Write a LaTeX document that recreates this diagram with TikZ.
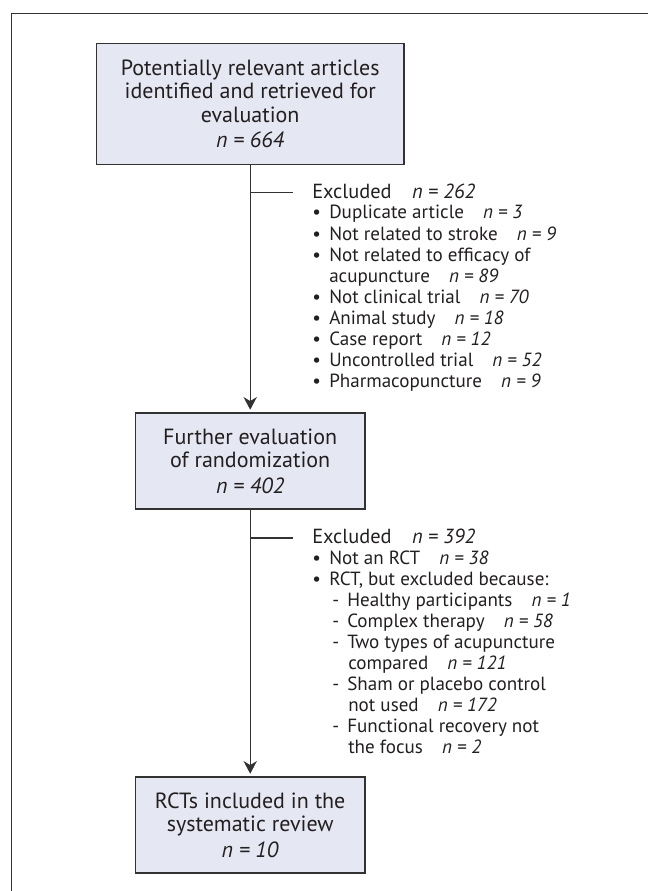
\documentclass[tikz,border=0pt]{standalone}
\usepackage{fontspec}
\setmainfont{PT Sans}
\usepackage{xcolor}
\usetikzlibrary{arrows.meta}

\definecolor{boxfill}{RGB}{229,231,242}
\definecolor{edgeclr}{RGB}{50,50,50}
\definecolor{textclr}{RGB}{35,31,32}

\newcommand{\bul}{\makebox[12.75pt][l]{\textbullet}}
\newcommand{\dsh}{\makebox[11.25pt][l]{-}}

\tikzset{
  flowbox/.style={draw=edgeclr, fill=boxfill, line width=0.9pt, align=center, inner sep=0pt,
    text=textclr, font=\fontsize{16.5}{17.6}\selectfont},
  headtext/.style={anchor=base west, inner sep=0pt, text=textclr, font=\fontsize{15.3}{16}\selectfont},
  listtext/.style={anchor=base west, inner sep=0pt, text=textclr, font=\fontsize{14.3}{15}\selectfont},
  flowline/.style={draw=edgeclr, line width=0.8pt},
}

\begin{document}
\begin{tikzpicture}[x=0.75pt,y=0.75pt,yscale=-1,xscale=1]
\useasboundingbox (0,0) rectangle (648,891);

%Shape: open frame
\coordinate (fbl) at (11.5,891);
\coordinate (ftl) at (11.5,13.5);
\coordinate (ftr) at (648,13.5);
\draw [draw=edgeclr, line width=1.1pt] (fbl) -- (ftl) -- (ftr);

%Shape: boxes
\node [flowbox, minimum width=230.8pt, minimum height=91.3pt] (found) at (250.2,104)
  {Potentially relevant articles\\identified and retrieved for\\evaluation\\[1.5pt]\textit{n = 664}};
\node [flowbox, minimum width=172.1pt, minimum height=72pt] (further) at (250.2,461)
  {Further evaluation\\of randomization\\[1.5pt]\textit{n = 402}};
\node [flowbox, minimum width=172.1pt, minimum height=72pt] (included) at (250.2,825)
  {RCTs included in the\\systematic review\\[1.5pt]\textit{n = 10}};

%Shape: arrows
\draw [flowline, -{Stealth[length=9.5pt, width=10pt, inset=3pt]}, shorten >=2pt] (found) -- (further);
\draw [flowline, -{Stealth[length=9.5pt, width=10pt, inset=3pt]}, shorten >=2pt] (further) -- (included);

%Shape: side ticks
\coordinate (tickA) at (250.2,192.7);
\coordinate (tickAend) at (292.6,192.7);
\draw [flowline] (tickA) -- (tickAend);
\coordinate (tickB) at (250.2,538);
\coordinate (tickBend) at (292.6,538);
\draw [flowline] (tickB) -- (tickBend);

% Text Node
\draw (312,199) node [headtext] (exA) {Excluded\quad\textit{n = 262}};
% Text Node
\draw (312,219) node [listtext] (exA1) {\bul Duplicate article\quad\textit{n = 3}};
% Text Node
\draw (312,240) node [listtext] (exA2) {\bul Not related to stroke\quad\textit{n = 9}};
% Text Node
\draw (312,261) node [listtext] (exA3) {\bul Not related to efficacy of};
% Text Node
\draw (329,282) node [listtext] (exA3b) {acupuncture\quad\textit{n = 89}};
% Text Node
\draw (312,303) node [listtext] (exA4) {\bul Not clinical trial\quad\textit{n = 70}};
% Text Node
\draw (312,324) node [listtext] (exA5) {\bul Animal study\quad\textit{n = 18}};
% Text Node
\draw (312,345) node [listtext] (exA6) {\bul Case report\quad\textit{n = 12}};
% Text Node
\draw (312,366) node [listtext] (exA7) {\bul Uncontrolled trial\quad\textit{n = 52}};
% Text Node
\draw (312,387) node [listtext] (exA8) {\bul Pharmacopuncture\quad\textit{n = 9}};

% Text Node
\draw (312,543) node [headtext] (exB) {Excluded\quad\textit{n = 392}};
% Text Node
\draw (312,564) node [listtext] (exB1) {\bul Not an RCT\quad\textit{n = 38}};
% Text Node
\draw (312,585) node [listtext] (exB2) {\bul RCT, but excluded because:};
% Text Node
\draw (332,606) node [listtext] (exB2a) {\dsh Healthy participants\quad\textit{n = 1}};
% Text Node
\draw (332,627) node [listtext] (exB2b) {\dsh Complex therapy\quad\textit{n = 58}};
% Text Node
\draw (332,648) node [listtext] (exB2c) {\dsh Two types of acupuncture};
% Text Node
\draw (348,669) node [listtext] (exB2cc) {compared\quad\textit{n = 121}};
% Text Node
\draw (332,690) node [listtext] (exB2d) {\dsh Sham or placebo control};
% Text Node
\draw (348,711) node [listtext] (exB2dd) {not used\quad\textit{n = 172}};
% Text Node
\draw (332,732) node [listtext] (exB2e) {\dsh Functional recovery not};
% Text Node
\draw (348,753) node [listtext] (exB2ee) {the focus\quad\textit{n = 2}};

\end{tikzpicture}
\end{document}
